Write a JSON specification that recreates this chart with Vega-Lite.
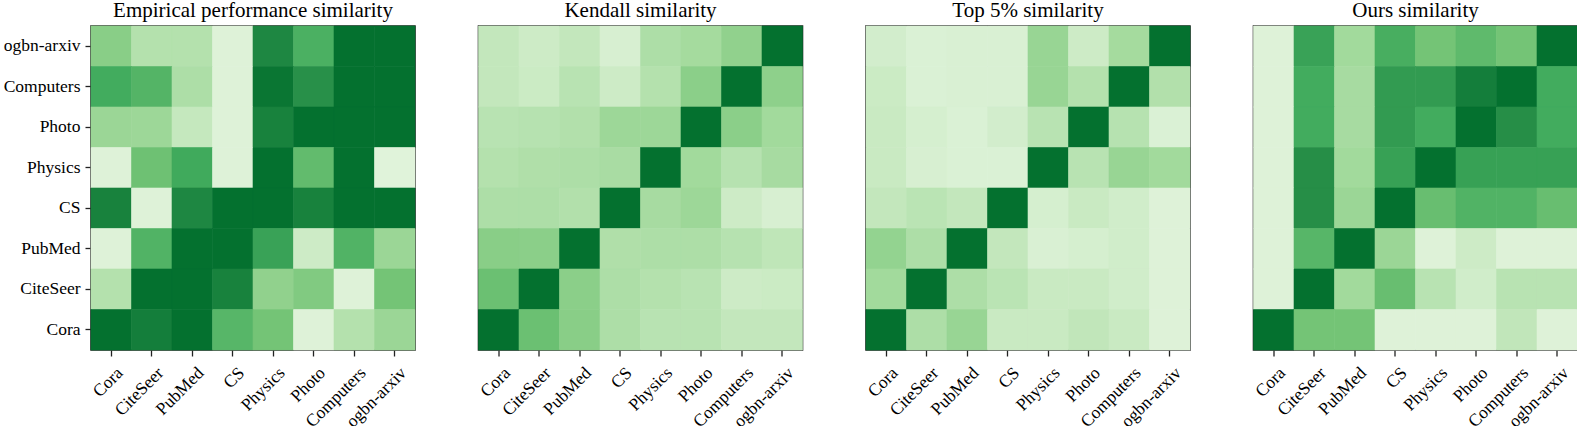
{
"$schema": "https://vega.github.io/schema/vega-lite/v6.json",
"autosize": {"type": "pad"},
"padding": {"left": 0, "top": 0, "right": 0, "bottom": 0},
"background": "white",
"data": {"values": [
{"panel":"Empirical performance similarity","row":"ogbn-arxiv","col":"Cora","value":0.42},
{"panel":"Empirical performance similarity","row":"ogbn-arxiv","col":"CiteSeer","value":0.24},
{"panel":"Empirical performance similarity","row":"ogbn-arxiv","col":"PubMed","value":0.24},
{"panel":"Empirical performance similarity","row":"ogbn-arxiv","col":"CS","value":0.02},
{"panel":"Empirical performance similarity","row":"ogbn-arxiv","col":"Physics","value":0.87},
{"panel":"Empirical performance similarity","row":"ogbn-arxiv","col":"Photo","value":0.64},
{"panel":"Empirical performance similarity","row":"ogbn-arxiv","col":"Computers","value":1},
{"panel":"Empirical performance similarity","row":"ogbn-arxiv","col":"ogbn-arxiv","value":1},
{"panel":"Empirical performance similarity","row":"Computers","col":"Cora","value":0.67},
{"panel":"Empirical performance similarity","row":"Computers","col":"CiteSeer","value":0.61},
{"panel":"Empirical performance similarity","row":"Computers","col":"PubMed","value":0.27},
{"panel":"Empirical performance similarity","row":"Computers","col":"CS","value":0.02},
{"panel":"Empirical performance similarity","row":"Computers","col":"Physics","value":0.97},
{"panel":"Empirical performance similarity","row":"Computers","col":"Photo","value":0.82},
{"panel":"Empirical performance similarity","row":"Computers","col":"Computers","value":1},
{"panel":"Empirical performance similarity","row":"Computers","col":"ogbn-arxiv","value":1},
{"panel":"Empirical performance similarity","row":"Photo","col":"Cora","value":0.35},
{"panel":"Empirical performance similarity","row":"Photo","col":"CiteSeer","value":0.34},
{"panel":"Empirical performance similarity","row":"Photo","col":"PubMed","value":0.16},
{"panel":"Empirical performance similarity","row":"Photo","col":"CS","value":0.02},
{"panel":"Empirical performance similarity","row":"Photo","col":"Physics","value":0.9},
{"panel":"Empirical performance similarity","row":"Photo","col":"Photo","value":1},
{"panel":"Empirical performance similarity","row":"Photo","col":"Computers","value":1},
{"panel":"Empirical performance similarity","row":"Photo","col":"ogbn-arxiv","value":1},
{"panel":"Empirical performance similarity","row":"Physics","col":"Cora","value":0.02},
{"panel":"Empirical performance similarity","row":"Physics","col":"CiteSeer","value":0.52},
{"panel":"Empirical performance similarity","row":"Physics","col":"PubMed","value":0.68},
{"panel":"Empirical performance similarity","row":"Physics","col":"CS","value":0.02},
{"panel":"Empirical performance similarity","row":"Physics","col":"Physics","value":1},
{"panel":"Empirical performance similarity","row":"Physics","col":"Photo","value":0.56},
{"panel":"Empirical performance similarity","row":"Physics","col":"Computers","value":1},
{"panel":"Empirical performance similarity","row":"Physics","col":"ogbn-arxiv","value":0.01},
{"panel":"Empirical performance similarity","row":"CS","col":"Cora","value":0.9},
{"panel":"Empirical performance similarity","row":"CS","col":"CiteSeer","value":0.02},
{"panel":"Empirical performance similarity","row":"CS","col":"PubMed","value":0.87},
{"panel":"Empirical performance similarity","row":"CS","col":"CS","value":1},
{"panel":"Empirical performance similarity","row":"CS","col":"Physics","value":1},
{"panel":"Empirical performance similarity","row":"CS","col":"Photo","value":0.9},
{"panel":"Empirical performance similarity","row":"CS","col":"Computers","value":1},
{"panel":"Empirical performance similarity","row":"CS","col":"ogbn-arxiv","value":1},
{"panel":"Empirical performance similarity","row":"PubMed","col":"Cora","value":0.02},
{"panel":"Empirical performance similarity","row":"PubMed","col":"CiteSeer","value":0.62},
{"panel":"Empirical performance similarity","row":"PubMed","col":"PubMed","value":1},
{"panel":"Empirical performance similarity","row":"PubMed","col":"CS","value":1},
{"panel":"Empirical performance similarity","row":"PubMed","col":"Physics","value":0.72},
{"panel":"Empirical performance similarity","row":"PubMed","col":"Photo","value":0.12},
{"panel":"Empirical performance similarity","row":"PubMed","col":"Computers","value":0.62},
{"panel":"Empirical performance similarity","row":"PubMed","col":"ogbn-arxiv","value":0.35},
{"panel":"Empirical performance similarity","row":"CiteSeer","col":"Cora","value":0.24},
{"panel":"Empirical performance similarity","row":"CiteSeer","col":"CiteSeer","value":1},
{"panel":"Empirical performance similarity","row":"CiteSeer","col":"PubMed","value":1},
{"panel":"Empirical performance similarity","row":"CiteSeer","col":"CS","value":0.9},
{"panel":"Empirical performance similarity","row":"CiteSeer","col":"Physics","value":0.39},
{"panel":"Empirical performance similarity","row":"CiteSeer","col":"Photo","value":0.45},
{"panel":"Empirical performance similarity","row":"CiteSeer","col":"Computers","value":0.02},
{"panel":"Empirical performance similarity","row":"CiteSeer","col":"ogbn-arxiv","value":0.5},
{"panel":"Empirical performance similarity","row":"Cora","col":"Cora","value":1},
{"panel":"Empirical performance similarity","row":"Cora","col":"CiteSeer","value":0.92},
{"panel":"Empirical performance similarity","row":"Cora","col":"PubMed","value":1},
{"panel":"Empirical performance similarity","row":"Cora","col":"CS","value":0.6},
{"panel":"Empirical performance similarity","row":"Cora","col":"Physics","value":0.5},
{"panel":"Empirical performance similarity","row":"Cora","col":"Photo","value":0.02},
{"panel":"Empirical performance similarity","row":"Cora","col":"Computers","value":0.24},
{"panel":"Empirical performance similarity","row":"Cora","col":"ogbn-arxiv","value":0.35},
{"panel":"Kendall similarity","row":"ogbn-arxiv","col":"Cora","value":0.17},
{"panel":"Kendall similarity","row":"ogbn-arxiv","col":"CiteSeer","value":0.12},
{"panel":"Kendall similarity","row":"ogbn-arxiv","col":"PubMed","value":0.17},
{"panel":"Kendall similarity","row":"ogbn-arxiv","col":"CS","value":0.06},
{"panel":"Kendall similarity","row":"ogbn-arxiv","col":"Physics","value":0.27},
{"panel":"Kendall similarity","row":"ogbn-arxiv","col":"Photo","value":0.31},
{"panel":"Kendall similarity","row":"ogbn-arxiv","col":"Computers","value":0.39},
{"panel":"Kendall similarity","row":"ogbn-arxiv","col":"ogbn-arxiv","value":1},
{"panel":"Kendall similarity","row":"Computers","col":"Cora","value":0.17},
{"panel":"Kendall similarity","row":"Computers","col":"CiteSeer","value":0.13},
{"panel":"Kendall similarity","row":"Computers","col":"PubMed","value":0.22},
{"panel":"Kendall similarity","row":"Computers","col":"CS","value":0.12},
{"panel":"Kendall similarity","row":"Computers","col":"Physics","value":0.24},
{"panel":"Kendall similarity","row":"Computers","col":"Photo","value":0.41},
{"panel":"Kendall similarity","row":"Computers","col":"Computers","value":1},
{"panel":"Kendall similarity","row":"Computers","col":"ogbn-arxiv","value":0.4},
{"panel":"Kendall similarity","row":"Photo","col":"Cora","value":0.22},
{"panel":"Kendall similarity","row":"Photo","col":"CiteSeer","value":0.23},
{"panel":"Kendall similarity","row":"Photo","col":"PubMed","value":0.25},
{"panel":"Kendall similarity","row":"Photo","col":"CS","value":0.34},
{"panel":"Kendall similarity","row":"Photo","col":"Physics","value":0.34},
{"panel":"Kendall similarity","row":"Photo","col":"Photo","value":1},
{"panel":"Kendall similarity","row":"Photo","col":"Computers","value":0.41},
{"panel":"Kendall similarity","row":"Photo","col":"ogbn-arxiv","value":0.32},
{"panel":"Kendall similarity","row":"Physics","col":"Cora","value":0.24},
{"panel":"Kendall similarity","row":"Physics","col":"CiteSeer","value":0.26},
{"panel":"Kendall similarity","row":"Physics","col":"PubMed","value":0.27},
{"panel":"Kendall similarity","row":"Physics","col":"CS","value":0.29},
{"panel":"Kendall similarity","row":"Physics","col":"Physics","value":1},
{"panel":"Kendall similarity","row":"Physics","col":"Photo","value":0.32},
{"panel":"Kendall similarity","row":"Physics","col":"Computers","value":0.23},
{"panel":"Kendall similarity","row":"Physics","col":"ogbn-arxiv","value":0.3},
{"panel":"Kendall similarity","row":"CS","col":"Cora","value":0.27},
{"panel":"Kendall similarity","row":"CS","col":"CiteSeer","value":0.27},
{"panel":"Kendall similarity","row":"CS","col":"PubMed","value":0.25},
{"panel":"Kendall similarity","row":"CS","col":"CS","value":1},
{"panel":"Kendall similarity","row":"CS","col":"Physics","value":0.3},
{"panel":"Kendall similarity","row":"CS","col":"Photo","value":0.34},
{"panel":"Kendall similarity","row":"CS","col":"Computers","value":0.12},
{"panel":"Kendall similarity","row":"CS","col":"ogbn-arxiv","value":0.06},
{"panel":"Kendall similarity","row":"PubMed","col":"Cora","value":0.42},
{"panel":"Kendall similarity","row":"PubMed","col":"CiteSeer","value":0.41},
{"panel":"Kendall similarity","row":"PubMed","col":"PubMed","value":1},
{"panel":"Kendall similarity","row":"PubMed","col":"CS","value":0.26},
{"panel":"Kendall similarity","row":"PubMed","col":"Physics","value":0.27},
{"panel":"Kendall similarity","row":"PubMed","col":"Photo","value":0.27},
{"panel":"Kendall similarity","row":"PubMed","col":"Computers","value":0.23},
{"panel":"Kendall similarity","row":"PubMed","col":"ogbn-arxiv","value":0.19},
{"panel":"Kendall similarity","row":"CiteSeer","col":"Cora","value":0.53},
{"panel":"Kendall similarity","row":"CiteSeer","col":"CiteSeer","value":1},
{"panel":"Kendall similarity","row":"CiteSeer","col":"PubMed","value":0.41},
{"panel":"Kendall similarity","row":"CiteSeer","col":"CS","value":0.27},
{"panel":"Kendall similarity","row":"CiteSeer","col":"Physics","value":0.24},
{"panel":"Kendall similarity","row":"CiteSeer","col":"Photo","value":0.22},
{"panel":"Kendall similarity","row":"CiteSeer","col":"Computers","value":0.12},
{"panel":"Kendall similarity","row":"CiteSeer","col":"ogbn-arxiv","value":0.13},
{"panel":"Kendall similarity","row":"Cora","col":"Cora","value":1},
{"panel":"Kendall similarity","row":"Cora","col":"CiteSeer","value":0.53},
{"panel":"Kendall similarity","row":"Cora","col":"PubMed","value":0.42},
{"panel":"Kendall similarity","row":"Cora","col":"CS","value":0.27},
{"panel":"Kendall similarity","row":"Cora","col":"Physics","value":0.22},
{"panel":"Kendall similarity","row":"Cora","col":"Photo","value":0.22},
{"panel":"Kendall similarity","row":"Cora","col":"Computers","value":0.17},
{"panel":"Kendall similarity","row":"Cora","col":"ogbn-arxiv","value":0.17},
{"panel":"Top 5% similarity","row":"ogbn-arxiv","col":"Cora","value":0.09},
{"panel":"Top 5% similarity","row":"ogbn-arxiv","col":"CiteSeer","value":0.04},
{"panel":"Top 5% similarity","row":"ogbn-arxiv","col":"PubMed","value":0.05},
{"panel":"Top 5% similarity","row":"ogbn-arxiv","col":"CS","value":0.05},
{"panel":"Top 5% similarity","row":"ogbn-arxiv","col":"Physics","value":0.36},
{"panel":"Top 5% similarity","row":"ogbn-arxiv","col":"Photo","value":0.12},
{"panel":"Top 5% similarity","row":"ogbn-arxiv","col":"Computers","value":0.31},
{"panel":"Top 5% similarity","row":"ogbn-arxiv","col":"ogbn-arxiv","value":1},
{"panel":"Top 5% similarity","row":"Computers","col":"Cora","value":0.13},
{"panel":"Top 5% similarity","row":"Computers","col":"CiteSeer","value":0.04},
{"panel":"Top 5% similarity","row":"Computers","col":"PubMed","value":0.05},
{"panel":"Top 5% similarity","row":"Computers","col":"CS","value":0.05},
{"panel":"Top 5% similarity","row":"Computers","col":"Physics","value":0.36},
{"panel":"Top 5% similarity","row":"Computers","col":"Photo","value":0.24},
{"panel":"Top 5% similarity","row":"Computers","col":"Computers","value":1},
{"panel":"Top 5% similarity","row":"Computers","col":"ogbn-arxiv","value":0.25},
{"panel":"Top 5% similarity","row":"Photo","col":"Cora","value":0.14},
{"panel":"Top 5% similarity","row":"Photo","col":"CiteSeer","value":0.07},
{"panel":"Top 5% similarity","row":"Photo","col":"PubMed","value":0.04},
{"panel":"Top 5% similarity","row":"Photo","col":"CS","value":0.09},
{"panel":"Top 5% similarity","row":"Photo","col":"Physics","value":0.22},
{"panel":"Top 5% similarity","row":"Photo","col":"Photo","value":1},
{"panel":"Top 5% similarity","row":"Photo","col":"Computers","value":0.23},
{"panel":"Top 5% similarity","row":"Photo","col":"ogbn-arxiv","value":0.04},
{"panel":"Top 5% similarity","row":"Physics","col":"Cora","value":0.14},
{"panel":"Top 5% similarity","row":"Physics","col":"CiteSeer","value":0.06},
{"panel":"Top 5% similarity","row":"Physics","col":"PubMed","value":0.04},
{"panel":"Top 5% similarity","row":"Physics","col":"CS","value":0.04},
{"panel":"Top 5% similarity","row":"Physics","col":"Physics","value":1},
{"panel":"Top 5% similarity","row":"Physics","col":"Photo","value":0.22},
{"panel":"Top 5% similarity","row":"Physics","col":"Computers","value":0.36},
{"panel":"Top 5% similarity","row":"Physics","col":"ogbn-arxiv","value":0.32},
{"panel":"Top 5% similarity","row":"CS","col":"Cora","value":0.17},
{"panel":"Top 5% similarity","row":"CS","col":"CiteSeer","value":0.21},
{"panel":"Top 5% similarity","row":"CS","col":"PubMed","value":0.17},
{"panel":"Top 5% similarity","row":"CS","col":"CS","value":1},
{"panel":"Top 5% similarity","row":"CS","col":"Physics","value":0.07},
{"panel":"Top 5% similarity","row":"CS","col":"Photo","value":0.14},
{"panel":"Top 5% similarity","row":"CS","col":"Computers","value":0.1},
{"panel":"Top 5% similarity","row":"CS","col":"ogbn-arxiv","value":0.02},
{"panel":"Top 5% similarity","row":"PubMed","col":"Cora","value":0.38},
{"panel":"Top 5% similarity","row":"PubMed","col":"CiteSeer","value":0.27},
{"panel":"Top 5% similarity","row":"PubMed","col":"PubMed","value":1},
{"panel":"Top 5% similarity","row":"PubMed","col":"CS","value":0.17},
{"panel":"Top 5% similarity","row":"PubMed","col":"Physics","value":0.05},
{"panel":"Top 5% similarity","row":"PubMed","col":"Photo","value":0.07},
{"panel":"Top 5% similarity","row":"PubMed","col":"Computers","value":0.1},
{"panel":"Top 5% similarity","row":"PubMed","col":"ogbn-arxiv","value":0.02},
{"panel":"Top 5% similarity","row":"CiteSeer","col":"Cora","value":0.32},
{"panel":"Top 5% similarity","row":"CiteSeer","col":"CiteSeer","value":1},
{"panel":"Top 5% similarity","row":"CiteSeer","col":"PubMed","value":0.27},
{"panel":"Top 5% similarity","row":"CiteSeer","col":"CS","value":0.21},
{"panel":"Top 5% similarity","row":"CiteSeer","col":"Physics","value":0.14},
{"panel":"Top 5% similarity","row":"CiteSeer","col":"Photo","value":0.14},
{"panel":"Top 5% similarity","row":"CiteSeer","col":"Computers","value":0.1},
{"panel":"Top 5% similarity","row":"CiteSeer","col":"ogbn-arxiv","value":0.02},
{"panel":"Top 5% similarity","row":"Cora","col":"Cora","value":1},
{"panel":"Top 5% similarity","row":"Cora","col":"CiteSeer","value":0.27},
{"panel":"Top 5% similarity","row":"Cora","col":"PubMed","value":0.36},
{"panel":"Top 5% similarity","row":"Cora","col":"CS","value":0.14},
{"panel":"Top 5% similarity","row":"Cora","col":"Physics","value":0.14},
{"panel":"Top 5% similarity","row":"Cora","col":"Photo","value":0.18},
{"panel":"Top 5% similarity","row":"Cora","col":"Computers","value":0.14},
{"panel":"Top 5% similarity","row":"Cora","col":"ogbn-arxiv","value":0.02},
{"panel":"Ours similarity","row":"ogbn-arxiv","col":"Cora","value":0.02},
{"panel":"Ours similarity","row":"ogbn-arxiv","col":"CiteSeer","value":0.72},
{"panel":"Ours similarity","row":"ogbn-arxiv","col":"PubMed","value":0.32},
{"panel":"Ours similarity","row":"ogbn-arxiv","col":"CS","value":0.65},
{"panel":"Ours similarity","row":"ogbn-arxiv","col":"Physics","value":0.5},
{"panel":"Ours similarity","row":"ogbn-arxiv","col":"Photo","value":0.57},
{"panel":"Ours similarity","row":"ogbn-arxiv","col":"Computers","value":0.5},
{"panel":"Ours similarity","row":"ogbn-arxiv","col":"ogbn-arxiv","value":1},
{"panel":"Ours similarity","row":"Computers","col":"Cora","value":0.02},
{"panel":"Ours similarity","row":"Computers","col":"CiteSeer","value":0.67},
{"panel":"Ours similarity","row":"Computers","col":"PubMed","value":0.3},
{"panel":"Ours similarity","row":"Computers","col":"CS","value":0.76},
{"panel":"Ours similarity","row":"Computers","col":"Physics","value":0.76},
{"panel":"Ours similarity","row":"Computers","col":"Photo","value":0.92},
{"panel":"Ours similarity","row":"Computers","col":"Computers","value":1},
{"panel":"Ours similarity","row":"Computers","col":"ogbn-arxiv","value":0.67},
{"panel":"Ours similarity","row":"Photo","col":"Cora","value":0.02},
{"panel":"Ours similarity","row":"Photo","col":"CiteSeer","value":0.67},
{"panel":"Ours similarity","row":"Photo","col":"PubMed","value":0.3},
{"panel":"Ours similarity","row":"Photo","col":"CS","value":0.76},
{"panel":"Ours similarity","row":"Photo","col":"Physics","value":0.67},
{"panel":"Ours similarity","row":"Photo","col":"Photo","value":1},
{"panel":"Ours similarity","row":"Photo","col":"Computers","value":0.83},
{"panel":"Ours similarity","row":"Photo","col":"ogbn-arxiv","value":0.67},
{"panel":"Ours similarity","row":"Physics","col":"Cora","value":0.02},
{"panel":"Ours similarity","row":"Physics","col":"CiteSeer","value":0.83},
{"panel":"Ours similarity","row":"Physics","col":"PubMed","value":0.32},
{"panel":"Ours similarity","row":"Physics","col":"CS","value":0.73},
{"panel":"Ours similarity","row":"Physics","col":"Physics","value":1},
{"panel":"Ours similarity","row":"Physics","col":"Photo","value":0.73},
{"panel":"Ours similarity","row":"Physics","col":"Computers","value":0.73},
{"panel":"Ours similarity","row":"Physics","col":"ogbn-arxiv","value":0.73},
{"panel":"Ours similarity","row":"CS","col":"Cora","value":0.02},
{"panel":"Ours similarity","row":"CS","col":"CiteSeer","value":0.83},
{"panel":"Ours similarity","row":"CS","col":"PubMed","value":0.35},
{"panel":"Ours similarity","row":"CS","col":"CS","value":1},
{"panel":"Ours similarity","row":"CS","col":"Physics","value":0.54},
{"panel":"Ours similarity","row":"CS","col":"Photo","value":0.62},
{"panel":"Ours similarity","row":"CS","col":"Computers","value":0.62},
{"panel":"Ours similarity","row":"CS","col":"ogbn-arxiv","value":0.54},
{"panel":"Ours similarity","row":"PubMed","col":"Cora","value":0.02},
{"panel":"Ours similarity","row":"PubMed","col":"CiteSeer","value":0.6},
{"panel":"Ours similarity","row":"PubMed","col":"PubMed","value":1},
{"panel":"Ours similarity","row":"PubMed","col":"CS","value":0.35},
{"panel":"Ours similarity","row":"PubMed","col":"Physics","value":0.02},
{"panel":"Ours similarity","row":"PubMed","col":"Photo","value":0.12},
{"panel":"Ours similarity","row":"PubMed","col":"Computers","value":0.02},
{"panel":"Ours similarity","row":"PubMed","col":"ogbn-arxiv","value":0.02},
{"panel":"Ours similarity","row":"CiteSeer","col":"Cora","value":0.02},
{"panel":"Ours similarity","row":"CiteSeer","col":"CiteSeer","value":1},
{"panel":"Ours similarity","row":"CiteSeer","col":"PubMed","value":0.32},
{"panel":"Ours similarity","row":"CiteSeer","col":"CS","value":0.54},
{"panel":"Ours similarity","row":"CiteSeer","col":"Physics","value":0.22},
{"panel":"Ours similarity","row":"CiteSeer","col":"Photo","value":0.1},
{"panel":"Ours similarity","row":"CiteSeer","col":"Computers","value":0.22},
{"panel":"Ours similarity","row":"CiteSeer","col":"ogbn-arxiv","value":0.22},
{"panel":"Ours similarity","row":"Cora","col":"Cora","value":1},
{"panel":"Ours similarity","row":"Cora","col":"CiteSeer","value":0.5},
{"panel":"Ours similarity","row":"Cora","col":"PubMed","value":0.5},
{"panel":"Ours similarity","row":"Cora","col":"CS","value":0.02},
{"panel":"Ours similarity","row":"Cora","col":"Physics","value":0.02},
{"panel":"Ours similarity","row":"Cora","col":"Photo","value":0.02},
{"panel":"Ours similarity","row":"Cora","col":"Computers","value":0.18},
{"panel":"Ours similarity","row":"Cora","col":"ogbn-arxiv","value":0.02}
]},
"facet": {"column": {"field": "panel", "type": "nominal",
  "sort": ["Empirical performance similarity", "Kendall similarity", "Top 5% similarity", "Ours similarity"],
  "title": null,
  "header": {"labelFont": "Liberation Serif", "labelFontSize": 21, "labelColor": "black", "labelPadding": -12, "labelOrient": "top", "labelBaseline": "alphabetic"}}},
"spacing": 63.5,
"bounds": "flush",
"spec": {
  "width": 324, "height": 324,
  "mark": {"type": "rect", "strokeWidth": 0.6},
  "encoding": {
    "x": {"field": "col", "type": "nominal",
      "sort": ["Cora", "CiteSeer", "PubMed", "CS", "Physics", "Photo", "Computers", "ogbn-arxiv"],
      "axis": {"title": null, "labelAngle": -45, "labelAlign": "right", "labelBaseline": "middle", "labelPadding": 14, "labelOffset": 9}},
    "y": {"field": "row", "type": "nominal",
      "sort": ["ogbn-arxiv", "Computers", "Photo", "Physics", "CS", "PubMed", "CiteSeer", "Cora"],
      "axis": {"title": null, "labelPadding": 5, "minExtent": 91, "maxExtent": 91}},
    "color": {"field": "value", "type": "quantitative", "legend": null,
      "scale": {"domain": [-0.194, -0.0208, 0.1528, 0.3264, 0.5, 0.6736, 0.8472, 1.0208, 1.194],
        "range": ["#f7fcf5", "#e5f5e0", "#c7e9c0", "#a1d99b", "#74c476", "#41ab5d", "#238b45", "#006d2c", "#00441b"],
        "interpolate": "rgb"}},
    "stroke": {"field": "value", "type": "quantitative", "legend": null,
      "scale": {"domain": [-0.194, -0.0208, 0.1528, 0.3264, 0.5, 0.6736, 0.8472, 1.0208, 1.194],
        "range": ["#f7fcf5", "#e5f5e0", "#c7e9c0", "#a1d99b", "#74c476", "#41ab5d", "#238b45", "#006d2c", "#00441b"],
        "interpolate": "rgb"}}
  }
},
"config": {
  "view": {"stroke": "#222222", "strokeWidth": 1.6},
  "axis": {"domain": false, "labelFont": "Liberation Serif", "labelFontSize": 17.5, "labelColor": "black",
    "tickColor": "#222222", "tickSize": 6, "tickWidth": 1.3, "grid": false}
}
}
